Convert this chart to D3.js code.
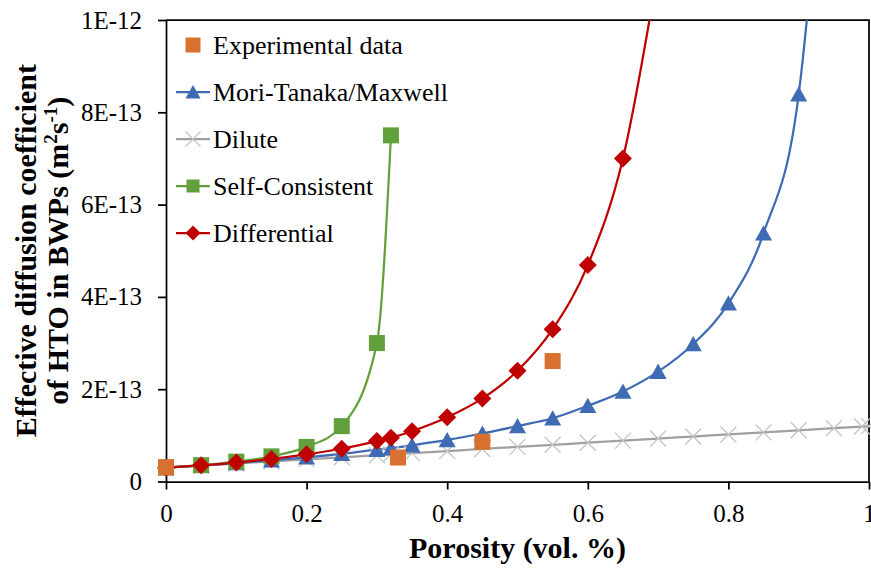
<!DOCTYPE html>
<html>
<head>
<meta charset="utf-8">
<script src="https://cdn.jsdelivr.net/npm/d3@7"></script>
<style>
  html, body { margin: 0; padding: 0; background: #fff; }
  text { font-family: "Liberation Serif", "Times New Roman", serif; fill: #000; }
</style>
</head>
<body>
<div id="chart"></div>
<script>
// values, D in units of 1E-13 m2/s
var modelX = [0, 0.05, 0.1, 0.15, 0.2, 0.25, 0.3, 0.32, 0.35, 0.4, 0.45, 0.5, 0.55, 0.6, 0.65, 0.7, 0.75, 0.8, 0.85, 0.9, 0.95, 0.99, 1];
var moriTanaka = [0.30, 0.35, 0.40, 0.46, 0.525, 0.60, 0.69, 0.72, 0.785, 0.90, 1.04, 1.20, 1.37, 1.64, 1.95, 2.38, 2.98, 3.86, 5.38, 8.39, 17.4];
var dilute = [0.30, 0.345, 0.39, 0.435, 0.48, 0.525, 0.57, 0.59, 0.615, 0.66, 0.705, 0.75, 0.795, 0.84, 0.885, 0.93, 0.975, 1.02, 1.065, 1.11, 1.155, 1.19, 1.20];
var selfConsistent = [0.30, 0.353, 0.43, 0.545, 0.75, 1.20, 3.0, 7.5];
var differential = [0.30, 0.35, 0.41, 0.49, 0.59, 0.71, 0.875, 0.95, 1.09, 1.39, 1.80, 2.40, 3.30, 4.69, 7.0, 11.1];
var expX = [0, 0.33, 0.45, 0.55];
var experimental = [0.31, 0.52, 0.86, 2.61];

var xTicks = [0, 0.2, 0.4, 0.6, 0.8, 1];
var yTicks = [0, 2, 4, 6, 8, 10];
var yTickLabels = ["0", "2E-13", "4E-13", "6E-13", "8E-13", "1E-12"];

var legendNames = ["Experimental data", "Mori-Tanaka/Maxwell", "Dilute", "Self-Consistent", "Differential"];

var colors = {
    exp: "#D8702F",
    mori: "#3F6BB4",
    dilute: "#A0A0A0",
    diluteMark: "#C4C4C4",
    self: "#62A03C",
    diff: "#C00000"
};

var chartWidth = 871, chartHeight = 570,
    plotLeft = 166, plotRight = 869, plotTop = 20, plotBottom = 481.5;

var x = d3.scaleLinear().domain([0, 1]).range([plotLeft, plotRight]);
var y = d3.scaleLinear().domain([0, 10]).range([plotBottom, plotTop]);

var pairs = function(xs, ys) {
    return ys.map(function(v, i) { return [xs[i], v]; });
};

var svg = d3.select("#chart").append("svg")
    .attr("width", chartWidth)
    .attr("height", chartHeight);

svg.append("defs").append("clipPath").attr("id", "plotclip")
    .append("rect")
    .attr("x", plotLeft).attr("y", plotTop)
    .attr("width", plotRight - plotLeft).attr("height", plotBottom - plotTop);

// frame (top and right)
svg.append("path")
    .attr("d", "M" + plotLeft + "," + plotTop + "H" + plotRight + "V" + plotBottom)
    .attr("fill", "none")
    .attr("stroke", "#000")
    .attr("stroke-width", 1.75);

// axes
var xAxis = svg.append("g")
    .attr("transform", "translate(0," + plotBottom + ")")
    .call(d3.axisBottom(x).tickValues(xTicks).tickSize(8).tickSizeOuter(0).tickPadding(14.5)
        .tickFormat(function(d) { return String(d); }));

var yAxis = svg.append("g")
    .attr("transform", "translate(" + plotLeft + ",0)")
    .call(d3.axisLeft(y).tickValues(yTicks).tickSize(8).tickSizeOuter(0).tickPadding(16)
        .tickFormat(function(d, i) { return yTickLabels[i]; }));

[xAxis, yAxis].forEach(function(g) {
    g.select(".domain").attr("stroke", "#000").attr("stroke-width", 1.75);
    g.selectAll(".tick line").attr("stroke", "#000").attr("stroke-width", 1.75);
    g.selectAll(".tick text")
        .attr("fill", "#000")
        .style("font-family", "'Liberation Serif', 'Times New Roman', serif")
        .style("font-size", "25px");
});

// axis titles
svg.append("text")
    .attr("x", (plotLeft + plotRight) / 2)
    .attr("y", 558)
    .attr("text-anchor", "middle")
    .style("font-size", "30px")
    .style("font-weight", "bold")
    .text("Porosity (vol. %)");

var yTitle = svg.append("text")
    .attr("transform", "translate(0," + ((plotTop + plotBottom) / 2) + ") rotate(-90)")
    .attr("text-anchor", "middle")
    .style("font-size", "30px")
    .style("font-weight", "bold");

yTitle.append("tspan").attr("x", 0).attr("y", 36).text("Effective diffusion coefficient");
var line2 = yTitle.append("tspan").attr("x", 0).attr("y", 68);
line2.append("tspan").text("of HTO in BWPs (m");
line2.append("tspan").attr("dy", -11).style("font-size", "19px").text("2");
line2.append("tspan").attr("dy", 11).text("s");
line2.append("tspan").attr("dy", -11).style("font-size", "19px").text("-1");
line2.append("tspan").attr("dy", 11).text(")");

// marker shapes
var marker = {
    square: function(s) { var h = s / 2; return "M" + -h + "," + -h + "h" + s + "v" + s + "h" + -s + "Z"; },
    triangle: function(s) { var h = s / 2; return "M0," + (-h * 0.95) + "L" + h + "," + (h * 0.85) + "L" + -h + "," + (h * 0.85) + "Z"; },
    diamond: function(s) { var h = s / 2; return "M0," + -h + "L" + h + ",0L0," + h + "L" + -h + ",0Z"; },
    cross: function(s) { var h = s / 2; return "M" + -h + "," + -h + "L" + h + "," + h + "M" + h + "," + -h + "L" + -h + "," + h; }
};

var series = [
    { key: "dilute", data: pairs(modelX, dilute), color: colors.dilute, mark: "cross", markColor: colors.diluteMark, size: 16, lw: 2.25 },
    { key: "mori", data: pairs(modelX, moriTanaka), color: colors.mori, mark: "triangle", markColor: colors.mori, size: 17, lw: 2.25 },
    { key: "self", data: pairs(modelX, selfConsistent), color: colors.self, mark: "square", markColor: colors.self, size: 16, lw: 2.25 },
    { key: "diff", data: pairs(modelX, differential), color: colors.diff, mark: "diamond", markColor: colors.diff, size: 18, lw: 2.25 }
];

var line = d3.line()
    .x(function(d) { return x(d[0]); })
    .y(function(d) { return y(d[1]); })
    .curve(d3.curveMonotoneX);

var plot = svg.append("g").attr("clip-path", "url(#plotclip)");

series.forEach(function(s) {
    plot.append("path")
        .datum(s.data)
        .attr("d", line)
        .attr("fill", "none")
        .attr("stroke", s.color)
        .attr("stroke-width", s.lw);
});

var drawMarks = function(g, data, s) {
    var sel = g.selectAll(".m-" + s.key)
        .data(data.filter(function(d) { return d[1] <= 10; }))
        .enter()
        .append("path")
        .attr("class", "m-" + s.key)
        .attr("transform", function(d) { return "translate(" + x(d[0]) + "," + y(d[1]) + ")"; })
        .attr("d", marker[s.mark](s.size));
    if (s.mark === "cross") {
        sel.attr("fill", "none").attr("stroke", s.markColor).attr("stroke-width", 1.3);
    } else {
        sel.attr("fill", s.markColor).attr("stroke", "none");
    }
};

series.forEach(function(s) { drawMarks(svg, s.data, s); });
drawMarks(svg, pairs(expX, experimental), { key: "exp", mark: "square", markColor: colors.exp, size: 16 });

// legend
var legendItems = [
    { name: legendNames[0], line: null, mark: "square", color: colors.exp, size: 15 },
    { name: legendNames[1], line: colors.mori, mark: "triangle", color: colors.mori, size: 15 },
    { name: legendNames[2], line: colors.dilute, mark: "cross", color: colors.diluteMark, size: 15 },
    { name: legendNames[3], line: colors.self, mark: "square", color: colors.self, size: 13 },
    { name: legendNames[4], line: colors.diff, mark: "diamond", color: colors.diff, size: 15 }
];

var legend = svg.append("g")
    .selectAll("g")
    .data(legendItems)
    .enter()
    .append("g")
    .attr("transform", function(d, i) { return "translate(0," + (45 + i * 47) + ")"; });

legend.filter(function(d) { return d.line; })
    .append("line")
    .attr("x1", 176).attr("x2", 210)
    .attr("stroke", function(d) { return d.line; })
    .attr("stroke-width", 2.25);

legend.append("path")
    .attr("transform", "translate(193,0)")
    .attr("d", function(d) { return marker[d.mark](d.size); })
    .attr("fill", function(d) { return d.mark === "cross" ? "none" : d.color; })
    .attr("stroke", function(d) { return d.mark === "cross" ? d.color : "none"; })
    .attr("stroke-width", 1.3);

legend.append("text")
    .attr("x", 213)
    .attr("y", 8.5)
    .style("font-size", "26px")
    .text(function(d) { return d.name; });
</script>
</body>
</html>
